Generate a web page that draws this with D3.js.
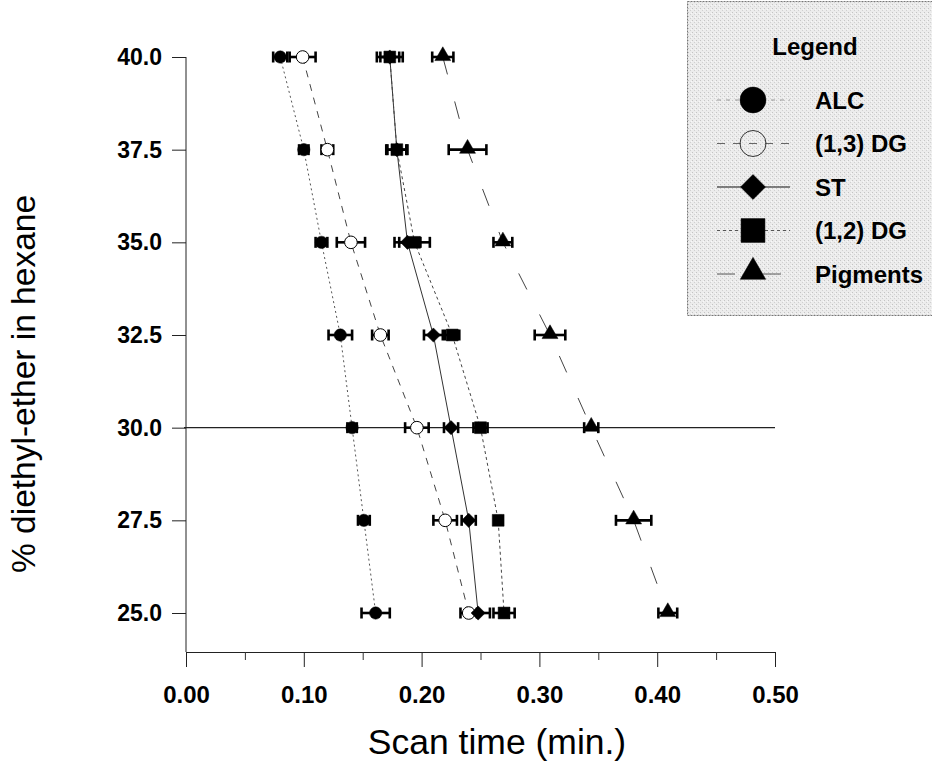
<!DOCTYPE html>
<html>
<head>
<meta charset="utf-8">
<script src="https://cdn.jsdelivr.net/npm/d3@7"></script>
<style>
  body { margin: 0; background: #fff; }
  svg { display: block; }
  text { font-family: "Liberation Sans", Arial, Helvetica, sans-serif; fill: #000; }
</style>
</head>
<body>
<svg id="chart" width="932" height="764"></svg>
<script>
// % diethyl-ether in hexane (y) and mean scan times in minutes (x)
const levels = [40.0, 37.5, 35.0, 32.5, 30.0, 27.5, 25.0];

const alc      = [0.080, 0.100, 0.115, 0.131, 0.141, 0.151, 0.161];
const alcErr   = [0.006, 0.004, 0.005, 0.010, 0.004, 0.005, 0.012];

const dg13     = [0.099, 0.120, 0.140, 0.165, 0.196, 0.220, 0.240];
const dg13Err  = [0.011, 0.005, 0.012, 0.007, 0.010, 0.010, 0.007];

const st       = [0.173, 0.179, 0.188, 0.210, 0.225, 0.240, 0.248];
const stErr    = [0.008, 0.008, 0.011, 0.008, 0.006, 0.006, 0.010];

const dg12     = [0.173, 0.179, 0.194, 0.226, 0.250, 0.265, 0.270];
const dg12Err  = [0.011, 0.009, 0.013, 0.006, 0.006, 0.002, 0.009];

const pigments    = [0.218, 0.239, 0.269, 0.309, 0.344, 0.380, 0.409];
const pigmentsErr = [0.009, 0.016, 0.008, 0.013, 0.006, 0.015, 0.008];

const seriesNames = ["ALC", "(1,3) DG", "ST", "(1,2) DG", "Pigments"];

const xTicks = [0.00, 0.10, 0.20, 0.30, 0.40, 0.50];
const xMinorTicks = [0.05, 0.15, 0.25, 0.35, 0.45];
const yTicks = [25.0, 27.5, 30.0, 32.5, 35.0, 37.5, 40.0];
const refLevel = 30.0;

// ---- layout ----
const plotLeft = 186, plotRight = 775, plotBottom = 652;

const x = d3.scaleLinear().domain([0, 0.5]).range([plotLeft, plotRight]);
const y = d3.scaleLinear().domain([25, 40]).range([613, 57]);

const svg = d3.select("#chart");

// series drawing styles
const styles = [
  { values: alc,      err: alcErr,      symbol: d3.symbolCircle,   size: 120, open: false, rotate: 0,  dash: "2,3",   lw: 1,   lstroke: "#555",
    legSize: 530, legDash: "4,5", legStroke: "#999" },
  { values: dg13,     err: dg13Err,     symbol: d3.symbolCircle,   size: 125, open: true,  rotate: 0,  dash: "7,7",   lw: 1,   lstroke: "#444",
    legSize: 530, legDash: "8,8", legStroke: "#666" },
  { values: st,       err: stErr,       symbol: d3.symbolSquare,   size: 100, open: false, rotate: 45, dash: null,    lw: 1,   lstroke: "#333",
    legSize: 310, legDash: null,  legStroke: "#111" },
  { values: dg12,     err: dg12Err,     symbol: d3.symbolSquare,   size: 140, open: false, rotate: 0,  dash: "3,3",   lw: 1,   lstroke: "#444",
    legSize: 570, legDash: "3,3", legStroke: "#555" },
  { values: pigments, err: pigmentsErr, symbol: d3.symbolTriangle, size: 110, open: false, rotate: 0,  dash: "18,28", lw: 1,   lstroke: "#444",
    legSize: 280, legDash: "18,28", legStroke: "#555" }
];

// ---- axes ----
const yAxis = d3.axisLeft(y)
  .tickValues(yTicks)
  .tickSize(14)
  .tickPadding(10)
  .tickFormat(d3.format(".1f"));

const gy = svg.append("g")
  .attr("transform", `translate(${plotLeft},0)`)
  .call(yAxis);
gy.select(".domain").remove();
gy.selectAll(".tick line").attr("stroke", "#222");
gy.selectAll(".tick text")
  .style("font-size", "23px")
  .style("font-weight", "bold");

svg.append("line")
  .attr("x1", plotLeft).attr("x2", plotLeft)
  .attr("y1", y(40)).attr("y2", plotBottom)
  .attr("stroke", "#222").attr("stroke-width", 1);

const xAxis = d3.axisBottom(x)
  .tickValues(xTicks)
  .tickSize(15)
  .tickPadding(19)
  .tickFormat(d3.format(".2f"));

const gx = svg.append("g")
  .attr("transform", `translate(0,${plotBottom})`)
  .call(xAxis);
gx.select(".domain").attr("stroke", "#222").attr("d", `M${plotLeft},0.5H${plotRight}`);
gx.selectAll(".tick line").attr("stroke", "#222");
gx.selectAll(".tick text")
  .style("font-size", "24px")
  .style("font-weight", "bold");

const gxMinor = svg.append("g")
  .attr("transform", `translate(0,${plotBottom})`)
  .call(d3.axisBottom(x).tickValues(xMinorTicks).tickSize(8).tickFormat(""));
gxMinor.select(".domain").remove();
gxMinor.selectAll(".tick line").attr("stroke", "#333");

// reference line at 30 %
svg.append("line")
  .attr("x1", plotLeft - 2).attr("x2", plotRight)
  .attr("y1", y(refLevel)).attr("y2", y(refLevel))
  .attr("stroke", "#222").attr("stroke-width", 1.2);

// axis titles
svg.append("text")
  .attr("x", 497).attr("y", 754)
  .attr("text-anchor", "middle")
  .style("font-size", "35.5px")
  .text("Scan time (min.)");

svg.append("text")
  .attr("transform", "translate(35,384) rotate(-90)")
  .attr("text-anchor", "middle")
  .style("font-size", "33.5px")
  .text("% diethyl-ether in hexane");

// ---- series lines ----
styles.forEach(s => {
  const pts = levels.map((lv, i) => [x(s.values[i]), y(lv)]);
  svg.append("path")
    .attr("d", d3.line()(pts))
    .attr("fill", "none")
    .attr("stroke", s.lstroke)
    .attr("stroke-width", s.lw)
    .attr("stroke-dasharray", s.dash);
});

// ---- error bars ----
const capH = 5.5;
styles.forEach(s => {
  const g = svg.append("g").attr("stroke", "#000").attr("stroke-width", 2.6);
  levels.forEach((lv, i) => {
    const yy = y(lv);
    const x0 = x(s.values[i] - s.err[i]);
    const x1 = x(s.values[i] + s.err[i]);
    g.append("line").attr("x1", x0).attr("x2", x1).attr("y1", yy).attr("y2", yy);
    g.append("line").attr("x1", x0).attr("x2", x0).attr("y1", yy - capH).attr("y2", yy + capH);
    g.append("line").attr("x1", x1).attr("x2", x1).attr("y1", yy - capH).attr("y2", yy + capH);
  });
});

// ---- markers ----
styles.forEach(s => {
  const path = d3.symbol().type(s.symbol).size(s.size)();
  levels.forEach((lv, i) => {
    const cx = x(s.values[i]);
    const cy = y(lv) + (s.symbol === d3.symbolTriangle ? -1 : 0);
    svg.append("path")
      .attr("d", path)
      .attr("transform", `translate(${cx},${cy}) rotate(${s.rotate})`)
      .attr("fill", s.open ? "#fff" : "#000")
      .attr("stroke", "#000")
      .attr("stroke-width", s.open ? 1 : 0.5);
  });
});

// ---- legend ----
const defs = svg.append("defs");
const pat = defs.append("pattern")
  .attr("id", "stipple")
  .attr("width", 4).attr("height", 4)
  .attr("patternUnits", "userSpaceOnUse");
pat.append("rect").attr("width", 4).attr("height", 4).attr("fill", "#ececec");
pat.append("rect").attr("x", 0).attr("y", 0).attr("width", 1).attr("height", 1).attr("fill", "#c4c4c4");
pat.append("rect").attr("x", 2).attr("y", 2).attr("width", 1).attr("height", 1).attr("fill", "#d0d0d0");
pat.append("rect").attr("x", 3).attr("y", 1).attr("width", 1).attr("height", 1).attr("fill", "#f8f8f8");

const leg = svg.append("g");
leg.append("rect")
  .attr("x", 687.5).attr("y", 1.5)
  .attr("width", 270).attr("height", 314)
  .attr("fill", "url(#stipple)")
  .attr("stroke", "#777")
  .attr("stroke-width", 1)
  .attr("stroke-dasharray", "2,1");

leg.append("text")
  .attr("x", 815).attr("y", 55)
  .attr("text-anchor", "middle")
  .style("font-size", "24px")
  .style("font-weight", "bold")
  .text("Legend");

const legRowY = d3.scalePoint().domain(seriesNames).range([100, 274]);
const legSymX = 753, legLineX0 = 717, legLineX1 = 790, legTextX = 815;

seriesNames.forEach((name, i) => {
  const s = styles[i];
  const cy = legRowY(name);
  leg.append("line")
    .attr("x1", legLineX0).attr("x2", legLineX1)
    .attr("y1", cy).attr("y2", cy)
    .attr("stroke", s.legStroke)
    .attr("stroke-width", 1.2)
    .attr("stroke-dasharray", s.legDash);
  leg.append("path")
    .attr("d", d3.symbol().type(s.symbol).size(s.legSize)())
    .attr("transform", `translate(${legSymX},${cy + (s.symbol === d3.symbolTriangle ? -2 : 0)}) rotate(${s.rotate})`)
    .attr("fill", s.open ? "none" : "#000")
    .attr("stroke", s.open ? "#333" : "#000")
    .attr("stroke-width", s.open ? 1 : 0.5);
  leg.append("text")
    .attr("x", legTextX).attr("y", cy)
    .attr("dy", "0.36em")
    .style("font-size", "24px")
    .style("font-weight", "bold")
    .text(name);
});
</script>
</body>
</html>
